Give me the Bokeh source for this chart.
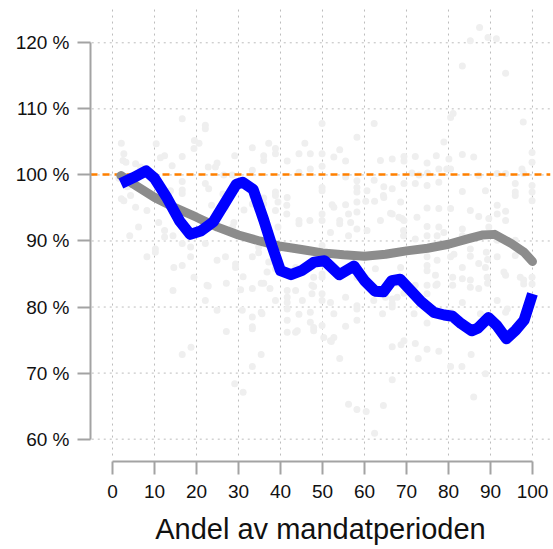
from bokeh.plotting import figure
from bokeh.models import Range1d, FixedTicker
from bokeh.embed import file_html
from bokeh.resources import INLINE

# ---------------- data ----------------
x_ticks = [0, 10, 20, 30, 40, 50, 60, 70, 80, 90, 100]
y_ticks = [60, 70, 80, 90, 100, 110, 120]
y_tick_labels = ["60 %", "70 %", "80 %", "90 %", "100 %", "110 %", "120 %"]
x_label = "Andel av mandatperioden"
reference_level = 100

# individual observations (light grey dots)
scatter_x = [
    2.1, 2.7, 2.5, 3.2, 5.5, 6.7, 10.4, 11.4, 12.4, 2.1, 2.7, 4.3, 5.5, 8.2, 6.2, 4.1, 11.0, 10.2, 10.2, 8.2, 12.4, 12.4, 1.5, 3.5,
    14.2, 16.6, 19.5, 20.6, 19.4, 16.6, 16.6, 16.6, 16.6, 13.8, 14.4, 16.6, 18.6, 18.6, 19.4, 14.6, 16.6, 14.4, 16.6, 18.7, 22.1, 22.1, 22.1, 22.1, 22.1, 22.5,
    22.8, 24.9, 27.1, 27.1, 22.8, 24.5, 24.9, 29.1, 26.5, 28.5, 33.3, 22.9, 26.3, 23.6, 26.9, 26.9, 31.3, 28.9, 28.6, 28.9, 26.9, 24.9, 29.3, 29.3, 30.5, 31.1, 30.9, 29.1, 31.1,
    33.3, 36.0, 36.0, 37.2, 38.8, 38.8, 41.6, 33.3, 33.3, 36.0, 36.0, 38.8, 38.8, 38.8, 39.4, 41.6, 41.5, 41.5, 39.4, 34.8, 34.8, 33.3, 37.2, 38.8, 38.8, 36.8, 33.3, 35.4, 36.0, 37.5, 38.8, 41.6, 41.6, 41.6, 33.3, 35.4, 35.6, 33.3, 33.3, 41.6, 41.6, 41.6, 35.4, 33.3,
    45.8, 44.4, 47.1, 49.9, 49.9, 47.1, 49.9, 44.4, 49.9, 49.9, 44.4, 47.0, 44.4, 49.9, 49.9, 51.9, 49.9, 49.9, 43.6, 47.9, 49.9, 49.9, 45.2, 47.5, 47.5, 49.9, 49.9, 43.6, 47.9, 51.9, 44.4, 47.1, 47.1, 47.9, 43.6, 44.0, 49.9, 47.9, 50.3, 51.9,
    52.7, 54.1, 55.5, 58.2, 55.5, 58.2, 58.2, 58.2, 60.6, 52.3, 55.5, 52.7, 58.2, 58.2, 60.3, 54.1, 54.1, 56.2, 56.7, 56.2, 60.6, 58.2, 55.5, 58.2, 58.2, 55.5, 52.7, 58.2, 58.2, 60.2, 52.7, 52.1, 54.1, 56.2, 58.2, 60.4,
    62.3, 63.8, 66.6, 69.4, 69.4, 62.3, 64.6, 66.6, 69.4, 64.6, 62.4, 64.5, 68.6, 66.6, 68.9, 63.8, 66.2, 68.2, 69.4, 69.3, 69.3, 62.6, 68.6, 62.2, 64.3, 65.0, 66.6, 66.6, 67.8, 67.8, 69.4, 66.6, 71.3, 71.8, 66.6, 68.7, 69.4, 66.6, 64.5, 62.4,
    72.1, 74.9, 77.1, 78.9, 77.7, 79.6, 80.5, 75.0, 73.0, 72.1, 74.9, 77.7, 74.9, 77.7, 80.5, 72.5, 77.7, 74.9, 72.1, 74.9, 77.3, 78.9, 81.3, 74.9, 77.3, 80.5, 74.9, 74.9, 72.1, 74.9, 74.9, 77.3, 76.9, 77.0, 81.0, 81.0, 80.5, 74.9, 72.1, 74.9, 77.7, 72.8, 80.5, 80.1, 81.1, 80.5,
    83.3, 85.2, 87.4, 89.4, 91.4, 83.3, 86.0, 87.2, 91.6, 83.3, 88.8, 85.2, 87.2, 89.6, 91.6, 91.6, 83.3, 83.3, 85.2, 89.6, 91.6, 85.2, 85.2, 87.2, 89.0, 89.3, 91.6, 83.3, 88.8, 83.3, 85.2, 85.2, 87.2, 89.2, 89.3, 83.3, 87.6, 91.6, 83.2, 85.4, 88.8, 86.0,
    93.6, 97.8, 99.9, 99.9, 97.5, 93.6, 97.9, 95.9, 95.9, 95.9, 99.9, 99.9, 99.9, 93.6, 93.6, 95.9, 95.9, 96.7, 93.2, 93.6, 97.1, 97.9, 97.9, 99.9, 99.9, 94.0, 93.6,
]
scatter_y = [
    104.8, 103.2, 102.2, 101.9, 101.7, 101.2, 104.7, 102.6, 102.9, 96.4, 96.1, 96.9, 95.1, 94.6, 92.1, 90.8, 92.8, 88.8, 88.3, 87.6, 91.6, 90.6, 99.5, 98.2,
    101.4, 102.8, 105.2, 104.8, 104.0, 108.5, 99.0, 97.7, 97.2, 97.6, 90.8, 89.6, 89.1, 87.6, 84.5, 86.0, 86.3, 82.5, 72.8, 73.9, 98.7, 107.5, 107.0, 89.6, 81.0, 83.3,
    83.2, 79.5, 83.6, 76.3, 101.2, 101.2, 101.8, 102.9, 100.0, 100.0, 100.7, 97.9, 97.1, 95.4, 96.0, 95.1, 94.7, 92.8, 92.1, 91.3, 87.6, 87.1, 86.0, 86.5, 82.6, 84.6, 79.5, 68.4, 67.1,
    104.1, 102.9, 102.2, 104.8, 104.0, 103.2, 102.1, 96.9, 95.6, 96.5, 95.6, 97.4, 96.9, 94.6, 95.9, 96.6, 95.4, 94.1, 92.1, 89.1, 88.2, 87.6, 86.8, 86.6, 85.8, 85.3, 82.8, 83.6, 83.6, 82.8, 81.0, 82.5, 81.5, 80.7, 78.5, 79.2, 79.0, 76.7, 77.0, 79.7, 78.0, 76.2, 72.8, 71.0,
    104.8, 103.2, 103.2, 103.2, 107.8, 100.9, 101.3, 100.4, 98.1, 97.6, 93.1, 93.1, 92.6, 94.1, 93.1, 91.3, 89.3, 88.3, 86.0, 84.5, 85.0, 84.5, 81.0, 83.3, 82.0, 82.0, 81.0, 82.5, 83.1, 80.7, 78.9, 79.2, 77.7, 76.9, 76.2, 76.4, 77.2, 76.4, 75.4, 74.9,
    102.7, 103.8, 102.1, 105.7, 99.7, 99.1, 98.1, 97.4, 97.6, 95.5, 95.5, 95.1, 95.9, 94.4, 96.0, 93.1, 92.6, 94.1, 92.8, 90.8, 91.6, 91.8, 81.5, 80.2, 78.0, 77.1, 79.0, 79.7, 84.5, 84.5, 75.4, 74.8, 72.2, 65.3, 64.5, 64.2,
    107.8, 102.2, 102.4, 102.1, 102.8, 99.2, 98.2, 97.9, 98.7, 96.6, 96.0, 96.9, 95.9, 94.1, 93.4, 93.1, 94.2, 93.6, 93.1, 91.6, 90.8, 85.8, 86.0, 81.0, 79.0, 81.5, 80.5, 80.0, 83.6, 81.5, 82.1, 81.2, 100.3, 79.0, 74.0, 74.3, 74.9, 69.0, 65.1, 60.9,
    102.8, 101.8, 102.9, 105.0, 100.9, 100.9, 100.9, 100.3, 100.0, 98.7, 98.4, 98.9, 95.0, 94.9, 94.9, 93.6, 92.1, 92.2, 90.3, 90.8, 90.8, 91.3, 88.0, 87.6, 87.1, 87.6, 86.3, 85.5, 83.3, 83.3, 82.0, 83.5, 84.8, 83.3, 84.5, 83.3, 79.2, 77.6, 74.5, 73.6, 73.3, 72.2, 71.0, 102.4, 109.3, 108.7,
    116.5, 120.3, 122.3, 120.8, 120.6, 103.1, 102.7, 99.9, 100.2, 97.5, 97.6, 94.6, 93.7, 93.4, 95.4, 94.1, 91.8, 90.8, 90.3, 92.1, 90.1, 88.8, 87.7, 86.6, 88.3, 87.2, 87.6, 86.0, 86.0, 84.3, 84.1, 83.0, 82.8, 84.5, 83.6, 80.7, 79.0, 81.0, 71.0, 72.8, 69.9, 66.4,
    115.4, 108.0, 103.4, 101.9, 100.9, 100.2, 100.2, 98.7, 97.4, 96.9, 98.4, 97.4, 96.1, 94.5, 93.1, 90.1, 87.8, 88.8, 85.3, 84.8, 84.5, 84.1, 83.5, 84.5, 83.5, 79.7, 79.2,
]

# smoothed trend (grey)
trend_x = [2, 5, 10, 15, 20, 25, 30, 35, 40, 45, 50, 55, 60, 65, 70, 75, 80, 85, 88, 91, 95, 98, 100]
trend_y = [99.9, 98.6, 96.6, 95.0, 93.6, 92.1, 90.9, 90.0, 89.2, 88.7, 88.2, 87.9, 87.7, 88.0, 88.5, 88.9, 89.5, 90.4, 90.9, 91.0, 89.6, 88.3, 86.9]

# rolling mean (blue)
rolling_x = [2, 5, 8, 10, 13, 16, 18.5, 21, 24, 27, 29.5, 31, 33.5, 36, 38, 40, 42.5, 45, 48, 50.5,
             54, 57.5, 60, 62.5, 64.5, 66.5, 68.5, 71, 73.5, 76.5, 79, 81, 83, 85.5, 87, 89.5, 91.5, 93.8, 96, 98, 100]
rolling_y = [98.7, 99.6, 100.6, 99.5, 96.5, 93.0, 91.0, 91.5, 92.9, 96.0, 98.6, 98.9, 97.8, 93.2, 89.2, 85.5, 84.9, 85.5, 86.8, 87.0,
             84.9, 86.2, 84.0, 82.4, 82.3, 84.0, 84.2, 82.5, 80.8, 79.2, 78.8, 78.6, 77.5, 76.4, 76.8, 78.4, 77.2, 75.2, 76.5, 78.0, 82.0]

# ---------------- figure ----------------
X0, X1 = -5.24, 104.29
Y0, Y1 = 56.62, 125.19

p = figure(width=553, height=549, output_backend="svg", toolbar_location=None,
           x_range=Range1d(X0, X1), y_range=Range1d(Y0, Y1),
           min_border_left=90, min_border_right=3, min_border_top=8, min_border_bottom=88)
p.outline_line_color = None
p.background_fill_color = "white"
p.border_fill_color = "white"
p.xgrid.visible = False
p.ygrid.visible = False

grid_kw = dict(line_color="#bdbdbd", line_width=1, line_dash="2 4")
p.segment(x0=x_ticks, y0=[Y0 + 0.9] * len(x_ticks), x1=x_ticks, y1=[Y1] * len(x_ticks), **grid_kw)
p.segment(x0=[X0 + 0.3] * len(y_ticks), y0=y_ticks, x1=[X1] * len(y_ticks), y1=y_ticks, **grid_kw)

p.scatter(scatter_x, scatter_y, size=7, fill_color="#efefef", line_color=None)

p.hspan(y=[reference_level], line_color="#ff8000", line_width=2.5, line_dash="7 5")

p.line(trend_x, trend_y, line_color="#8c8c8c", line_width=9, line_cap="round", line_join="round")
p.line(rolling_x, rolling_y, line_color="#0000ff", line_width=11, line_cap="butt", line_join="round")

axis_color = "#a3a3a3"
for ax in (p.xaxis[0], p.yaxis[0]):
    ax.axis_line_color = axis_color
    ax.axis_line_width = 2
    ax.major_tick_line_color = axis_color
    ax.major_tick_line_width = 2
    ax.major_tick_out = 13
    ax.major_tick_in = 0
    ax.minor_tick_line_color = None
    ax.major_label_text_font = "Liberation Sans"
    ax.major_label_text_font_size = "19px"
    ax.major_label_text_color = "#111111"

p.xaxis.ticker = FixedTicker(ticks=x_ticks)
p.xaxis.bounds = (x_ticks[0], x_ticks[-1])
p.xaxis.major_label_standoff = 10
p.xaxis.axis_label = x_label
p.xaxis.axis_label_text_font = "Liberation Sans"
p.xaxis.axis_label_text_font_size = "29px"
p.xaxis.axis_label_text_font_style = "normal"
p.xaxis.axis_label_text_color = "#111111"
p.xaxis.axis_label_standoff = 12

p.yaxis.ticker = FixedTicker(ticks=y_ticks)
p.yaxis.bounds = (y_ticks[0], y_ticks[-1])
p.yaxis.major_label_standoff = 8
p.yaxis.major_label_overrides = {t: lab for t, lab in zip(y_ticks, y_tick_labels)}

open("out.html", "w").write(file_html(p, INLINE))
